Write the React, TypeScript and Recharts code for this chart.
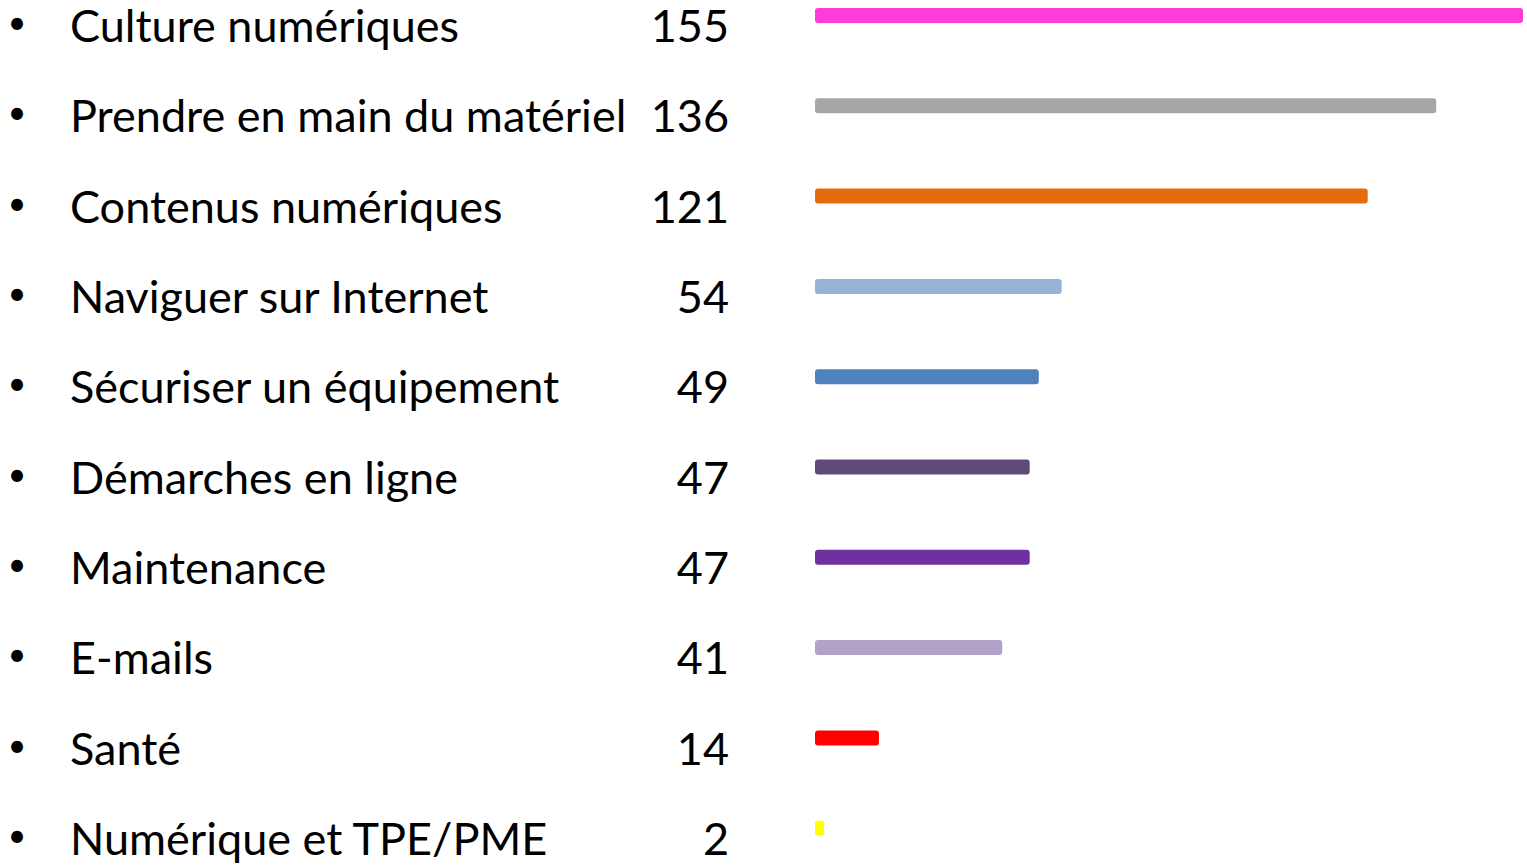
import React from "react";
import { BarChart, Bar, XAxis, YAxis, Cell } from "recharts";

const categories = [
  "Culture numériques",
  "Prendre en main du matériel",
  "Contenus numériques",
  "Naviguer sur Internet",
  "Sécuriser un équipement",
  "Démarches en ligne",
  "Maintenance",
  "E-mails",
  "Santé",
  "Numérique et TPE/PME",
];
const values = [155, 136, 121, 54, 49, 47, 47, 41, 14, 2];
const colors = [
  "#FF3BDB",
  "#A6A6A6",
  "#E46C0A",
  "#95B3D7",
  "#4F81BD",
  "#604A7B",
  "#7030A0",
  "#B3A2C7",
  "#FF0000",
  "#FFFF00",
];

const data = categories.map((name, i) => ({ name, value: values[i] }));

const FONT = "Lato, 'Open Sans', sans-serif";

const RowTick = (props: any) => {
  const { y, payload } = props;
  const i = categories.indexOf(payload.value);
  const baseY = y + 27;
  return (
    <g>
      <text x={17} y={baseY - 8} fontSize={32} fontFamily={FONT} fill="#000" textAnchor="middle">
        •
      </text>
      <text x={70} y={baseY} fontSize={45} fontFamily={FONT} fill="#000">
        {payload.value}
      </text>
      <text x={729} y={baseY} fontSize={45} fontFamily={FONT} fill="#000" textAnchor="end">
        {values[i]}
      </text>
    </g>
  );
};

export default function App() {
  return (
    <div style={{ position: "absolute", left: 0, top: 0, background: "#fff" }}>
      <BarChart
        width={1527}
        height={865}
        data={data}
        layout="vertical"
        margin={{ top: -30, right: 4, bottom: -8, left: 0 }}
        barSize={15}
      >
        <XAxis type="number" domain={[0, 155]} hide />
        <YAxis
          type="category"
          dataKey="name"
          width={815}
          axisLine={false}
          tickLine={false}
          tick={<RowTick />}
          interval={0}
        />
        <Bar dataKey="value" radius={3} isAnimationActive={false}>
          {data.map((d, i) => (
            <Cell key={d.name} fill={colors[i]} />
          ))}
        </Bar>
      </BarChart>
    </div>
  );
}
